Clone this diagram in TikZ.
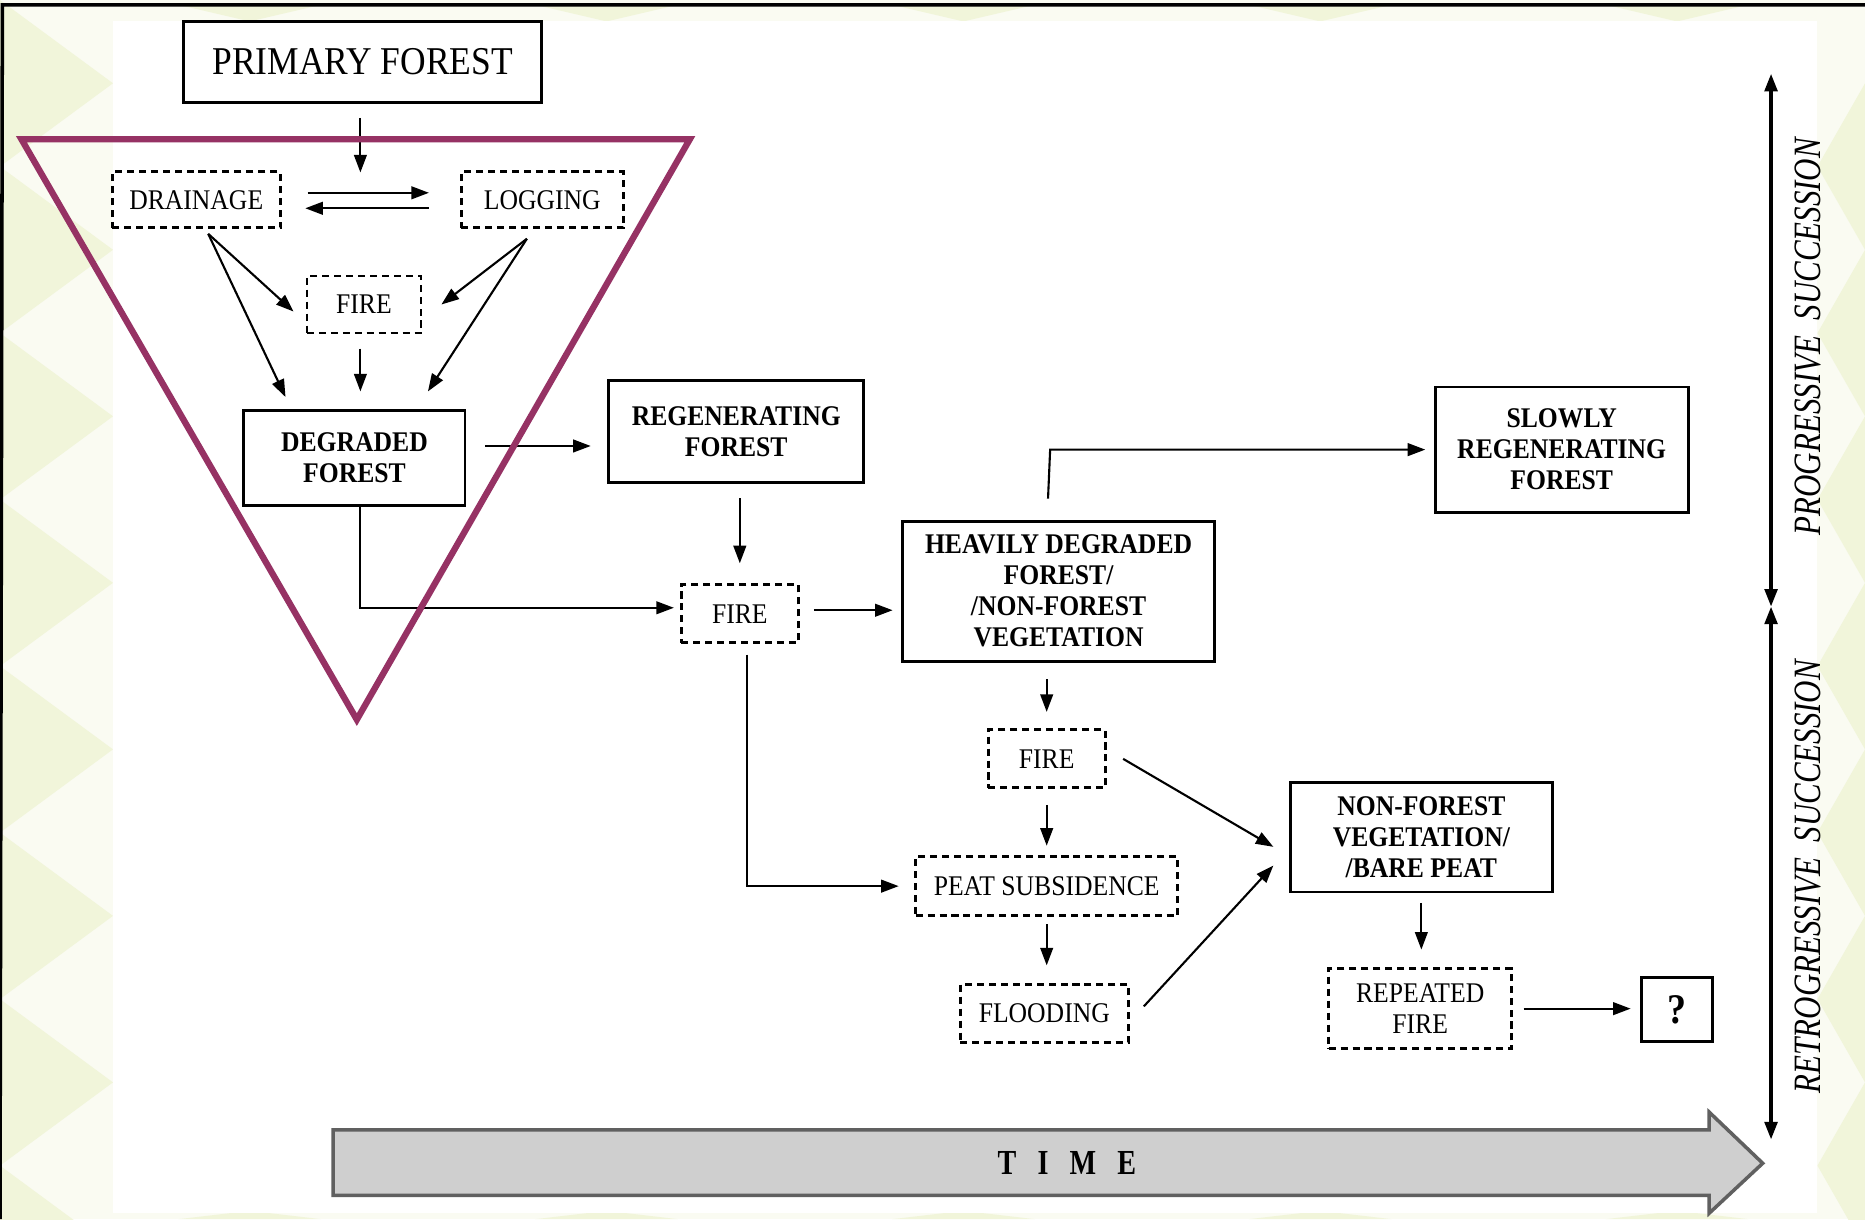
\documentclass[tikz,border=0pt]{standalone}
\usepackage{fontspec}
\setmainfont{Liberation Serif}[FakeStretch=0.9]
\newfontfamily\sidefont{Liberation Serif}[FakeStretch=0.8]
\usetikzlibrary{arrows.meta}
\definecolor{wedge}{RGB}{150,50,100}
\definecolor{paper}{RGB}{250,251,242}
\definecolor{tile}{RGB}{241,245,218}
\tikzset{
  box/.style={draw, line width=0.8pt, fill=white, inner sep=0pt, align=center,
              font=\fontsize{8.1}{8.8}\selectfont\bfseries},
  dbox/.style={draw, line width=0.8pt, dash pattern=on 2pt off 1.4pt, fill=white,
               inner sep=0pt, align=center, font=\fontsize{8.1}{8.8}\selectfont},
  arr/.style={-{Triangle[length=5pt,width=3.6pt]}, line width=0.6pt},
  dbl/.style={{Triangle[length=5pt,width=3.6pt]}-{Triangle[length=5pt,width=3.6pt]}, line width=1pt}
}
\begin{document}
\begin{tikzpicture}[x=0.011894cm, y=-0.011894cm]
                    \useasboundingbox (0,0) rectangle (1568,1025);
                    % background with pale tiles round the white sheet
                    \fill[paper] (0,0) rectangle (1568,1025);
                    \foreach \t in {0,140,...,980} {
                        \fill[tile] (0,\t) -- (95,\t+70) -- (0,\t+140) -- cycle;
                        \fill[tile] (1568,\t+70) -- (1528,\t+140) -- (1568,\t+210) -- cycle;
                    }
                    \foreach \t in {150,450,...,1500} {
                        \fill[tile] (\t,1025) -- (\t+60,1018) -- (\t+120,1025) -- cycle;
                        \fill[tile] (\t,4) -- (\t+60,18) -- (\t+120,4) -- cycle;
                    }
                    \fill[white] (95,18) rectangle (1528,1020);
                    \draw[line width=1pt] (0,1025) -- (2,4) -- (1568,4);
                    % nodes
                    \node[box, font=\fontsize{11.2}{13}\selectfont, minimum width=3.58cm, minimum height=0.81cm] (primary) at (305,52) {PRIMARY FOREST};
                    \node[dbox, minimum width=1.68cm, minimum height=0.56cm] (drain) at (165,168) {DRAINAGE};
                    \node[dbox, minimum width=1.62cm, minimum height=0.56cm] (log) at (456,168) {LOGGING};
                    \node[dbox, minimum width=1.14cm, minimum height=0.57cm] (fire1) at (306,256) {FIRE};
                    \node[box, minimum width=2.21cm, minimum height=0.95cm] (degr) at (298,385) {DEGRADED\\FOREST};
                    \node[box, minimum width=2.55cm, minimum height=1.02cm] (regen) at (619,363) {REGENERATING\\FOREST};
                    \node[dbox, minimum width=1.17cm, minimum height=0.58cm] (fire2) at (622,516) {FIRE};
                    \node[box, minimum width=3.12cm, minimum height=1.40cm] (heavy) at (890,497) {HEAVILY DEGRADED\\FOREST/\\/NON-FOREST\\VEGETATION};
                    \node[box, minimum width=2.53cm, minimum height=1.25cm] (slow) at (1313,378) {SLOWLY\\REGENERATING\\FOREST};
                    \node[dbox, minimum width=1.17cm, minimum height=0.58cm] (fire3) at (880,638) {FIRE};
                    \node[dbox, minimum width=2.62cm, minimum height=0.59cm] (peat) at (880,745) {PEAT SUBSIDENCE};
                    \node[dbox, minimum width=1.68cm, minimum height=0.58cm] (flood) at (878,852) {FLOODING};
                    \node[box, minimum width=2.62cm, minimum height=1.09cm] (nonf) at (1195,704) {NON-FOREST\\VEGETATION/\\/BARE PEAT};
                    \node[dbox, minimum width=1.83cm, minimum height=0.80cm] (rep) at (1194,848) {REPEATED\\FIRE};
                    \node[box, font=\fontsize{12}{14}\selectfont\bfseries, minimum width=0.71cm, minimum height=0.64cm] (q) at (1410,849) {?};
                    \coordinate (P1) at (303,145);
                    % connectors
                    \draw[arr, shorten <=4pt] (primary.south -| P1) -- (P1);
                    \draw[arr, shorten <=7.4pt, shorten >=8.8pt] ([yshift=2pt]drain.east) -- ([yshift=2pt]drain.east -| log.west);
                    \draw[arr, shorten <=8.8pt, shorten >=6.7pt] ([yshift=-2.4pt]log.west) -- ([yshift=-2.4pt]log.west -| drain.east);
                    \draw[arr] ([xshift=3.4pt,yshift=-1.3pt]drain.south) -- ([xshift=-3.4pt,yshift=-2pt]fire1.west);
                    \draw[arr] ([xshift=3.4pt,yshift=-1.3pt]drain.south) -- ([xshift=-19.6pt,yshift=3.4pt]degr.north);
                    \draw[arr] ([xshift=-4.4pt,yshift=-2.7pt]log.south) -- ([xshift=5.4pt]fire1.east);
                    \draw[arr] ([xshift=-4.4pt,yshift=-2.7pt]log.south) -- ([xshift=20.9pt,yshift=5pt]degr.north);
                    \draw[arr, shorten <=4pt, shorten >=5pt] (fire1.south -| P1) -- (degr.north -| P1);
                    \draw[arr, shorten <=5.4pt, shorten >=4.7pt] ([yshift=3.4pt]degr.east) -- ([yshift=3.4pt]degr.east -| regen.west);
                    \draw[arr, shorten <=4pt, shorten >=5.7pt] (fire2.north |- regen.south) -- (fire2.north);
                    \draw[arr, shorten >=1.7pt] ([xshift=1.7pt]degr.south) |- ([yshift=1.7pt]fire2.west);
                    \draw[arr, shorten <=4pt, shorten >=2.4pt] ([yshift=1pt]fire2.east) -- ([yshift=1pt]fire2.east -| heavy.west);
                    \draw[arr, shorten >=2.4pt] ([xshift=-3pt,yshift=6pt]heavy.north) -- ([xshift=-2.4pt,yshift=0pt]heavy.north |- slow.west) -- (slow.west);
                    \draw[arr, shorten <=4.7pt, shorten >=4.7pt] (fire3.north |- heavy.south) -- (fire3.north);
                    \draw[arr, shorten <=4.4pt, shorten >=2.7pt] (fire3.south) -- (peat.north);
                    \draw[arr, shorten <=3pt, shorten >=4.4pt] ([xshift=2pt]fire2.south) |- (peat.west);
                    \draw[arr, shorten <=2pt, shorten >=5pt] (peat.south) -- (peat.south |- flood.north);
                    \draw[arr] ([xshift=4.7pt]fire3.east) -- ([xshift=-4.4pt,yshift=-2.7pt]nonf.west);
                    \draw[arr] ([xshift=4pt,yshift=2pt]flood.east) -- ([xshift=-4.4pt,yshift=-8pt]nonf.west);
                    \draw[arr, shorten <=2.7pt, shorten >=5pt] (nonf.south) -- (nonf.south |- rep.north);
                    \draw[arr, shorten <=3pt, shorten >=2.7pt] (rep.east) -- (rep.east -| q.west);
                    % the wedge round the first stage
                    \draw[wedge, line width=1.8pt, line join=miter] (18,117) -- (580,117) -- (300,605) -- cycle;
                    % succession axis
                    \coordinate (S1) at (1489,62);
                    \coordinate (S2) at (1489,510);
                    \coordinate (S3) at (1489,958);
                    \draw[dbl] (S1) -- (S2);
                    \draw[dbl] (S2) -- (S3);
                    \node[rotate=90, font=\fontsize{11}{13}\sidefont\itshape] (prog) at (1520,283) {PROGRESSIVE\ \ SUCCESSION};
                    \node[rotate=90, font=\fontsize{11}{13}\sidefont\itshape] (retro) at (1520,737) {RETROGRESSIVE\ \ SUCCESSION};
                    % time arrow
                    \draw[fill=gray!38, draw=gray!75!black, line width=1pt] (280,950) -- (1437,950) -- (1437,935) -- (1482,978) -- (1437,1020) -- (1437,1005) -- (280,1005) -- cycle;
                    \node[font=\fontsize{10}{12}\sidefont\bfseries] (time) at (897,978) {T\hspace{6pt}I\hspace{6pt}M\hspace{6pt}E};
                \end{tikzpicture}
\end{document}
